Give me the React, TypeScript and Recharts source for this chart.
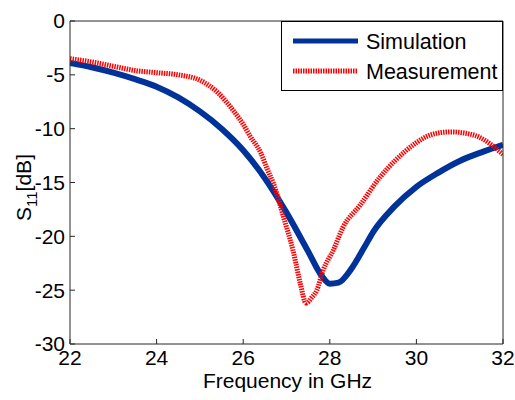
import { LineChart, Line, XAxis, YAxis, Legend } from 'recharts'

const xTicks = [22, 24, 26, 28, 30, 32]
const yTicks = [-30, -25, -20, -15, -10, -5, 0]

// simulated S11
const simFreq = [22, 22.5, 23, 23.5, 24, 24.5, 25, 25.5, 26, 26.5, 27, 27.5, 27.8, 28, 28.2, 28.5, 28.8, 29, 29.5, 30, 30.5, 31, 31.5, 32]
const simS11 = [-3.9, -4.3, -4.8, -5.4, -6.1, -7.1, -8.4, -10.0, -12.0, -14.6, -17.8, -21.4, -23.6, -24.4, -24.3, -23.0, -21.0, -19.6, -17.2, -15.4, -14.1, -13.0, -12.2, -11.5]

const measFreq = [22, 22.5, 23, 23.5, 24, 24.5, 25, 25.4, 25.75, 26, 26.16, 26.4, 26.55, 26.7, 26.93, 27.15, 27.32, 27.45, 27.58, 27.7, 27.85, 28.08, 28.3, 28.7, 29.16, 29.5, 30, 30.25, 30.5, 30.8, 31.1, 31.4, 31.7, 32]
const measS11 = [-3.5, -3.8, -4.2, -4.6, -4.8, -5.0, -5.5, -6.6, -8.2, -9.6, -10.7, -12.2, -13.7, -15.1, -18.2, -21.3, -24.4, -26.2, -25.7, -25.0, -23.1, -21.3, -19.2, -17.1, -14.5, -13.0, -11.3, -10.7, -10.4, -10.3, -10.4, -10.7, -11.4, -12.4]

const simData = simFreq.map((f, i) => ({ f, s11: simS11[i] }))
const measData = measFreq.map((f, i) => ({ f, s11: measS11[i] }))

const FONT = '"Liberation Sans", Arial, sans-serif'
const BLUE = '#003399'
const RED = '#ff0000'
const AXIS = '#262626'
const RED_DASH = '1.5 1'

function YTitle(props: any) {
  const vb = props.viewBox || { y: 21, height: 323 }
  const cx = 31
  const cy = vb.y + vb.height / 2 + 5
  return (
    <text
      x={cx}
      y={cy}
      transform={`rotate(-90 ${cx} ${cy})`}
      textAnchor="middle"
      fontSize={21}
      fontFamily={FONT}
      fill="#000"
    >
      S
      <tspan fontSize={15} dy={6}>11</tspan>
      <tspan dy={-6}>[dB]</tspan>
    </text>
  )
}

function XTitle(props: any) {
  const vb = props.viewBox || { x: 70, width: 433 }
  return (
    <text x={vb.x + vb.width / 2 + 1} y={388} textAnchor="middle" fontSize={21} fontFamily={FONT} fill="#000">
      Frequency in GHz
    </text>
  )
}

function LegendBox() {
  return (
    <svg width={222} height={70} style={{ display: 'block' }}>
      <rect x={0.5} y={0.5} width={221} height={69} fill="#fff" stroke="#000" />
      <line x1={12} x2={77} y1={20} y2={20} stroke={BLUE} strokeWidth={5} />
      <text x={85} y={28} fontSize={21.5} fontFamily={FONT} fill="#000">Simulation</text>
      <line x1={12} x2={77} y1={50} y2={50} stroke={RED} strokeWidth={5} strokeDasharray={RED_DASH} />
      <text x={85} y={58} fontSize={21.5} fontFamily={FONT} fill="#000">Measurement</text>
    </svg>
  )
}

const tickStyle = { fontSize: 21, fill: '#000', fontFamily: FONT }

export default function App() {
  return (
    <div style={{ position: 'absolute', left: 0, top: 0, width: 515, height: 400, background: '#fff' }}>
      <LineChart width={515} height={400} margin={{ top: 20, right: 11, left: 0, bottom: 0 }}>
        <XAxis
          xAxisId="b"
          type="number"
          dataKey="f"
          domain={[22, 32]}
          ticks={xTicks}
          allowDataOverflow
          height={56}
          tickSize={-5}
          tickMargin={11}
          tick={tickStyle}
          stroke={AXIS}
          label={<XTitle />}
        />
        <XAxis
          xAxisId="t"
          orientation="top"
          type="number"
          dataKey="f"
          domain={[22, 32]}
          ticks={xTicks}
          allowDataOverflow
          height={1}
          tickSize={-5}
          tick={false}
          stroke={AXIS}
        />
        <YAxis
          yAxisId="l"
          type="number"
          domain={[-30, 0]}
          ticks={yTicks}
          allowDataOverflow
          width={70}
          tickSize={-5}
          tickMargin={10}
          tick={tickStyle}
          stroke={AXIS}
          label={<YTitle />}
        />
        <YAxis
          yAxisId="r"
          orientation="right"
          type="number"
          domain={[-30, 0]}
          ticks={yTicks}
          allowDataOverflow
          width={1}
          tickSize={-5}
          tick={false}
          stroke={AXIS}
        />
        <Line
          xAxisId="b"
          yAxisId="l"
          data={simData}
          dataKey="s11"
          type="monotone"
          stroke={BLUE}
          strokeWidth={6}
          dot={false}
          isAnimationActive={false}
        />
        <Line
          xAxisId="b"
          yAxisId="l"
          data={measData}
          dataKey="s11"
          type="monotone"
          stroke={RED}
          strokeWidth={5}
          strokeDasharray={RED_DASH}
          dot={false}
          isAnimationActive={false}
        />
        <Legend
          layout="vertical"
          align="center"
          verticalAlign="middle"
          wrapperStyle={{ left: 281, top: 21, width: 222, height: 70 }}
          content={() => <LegendBox />}
        />
      </LineChart>
    </div>
  )
}
